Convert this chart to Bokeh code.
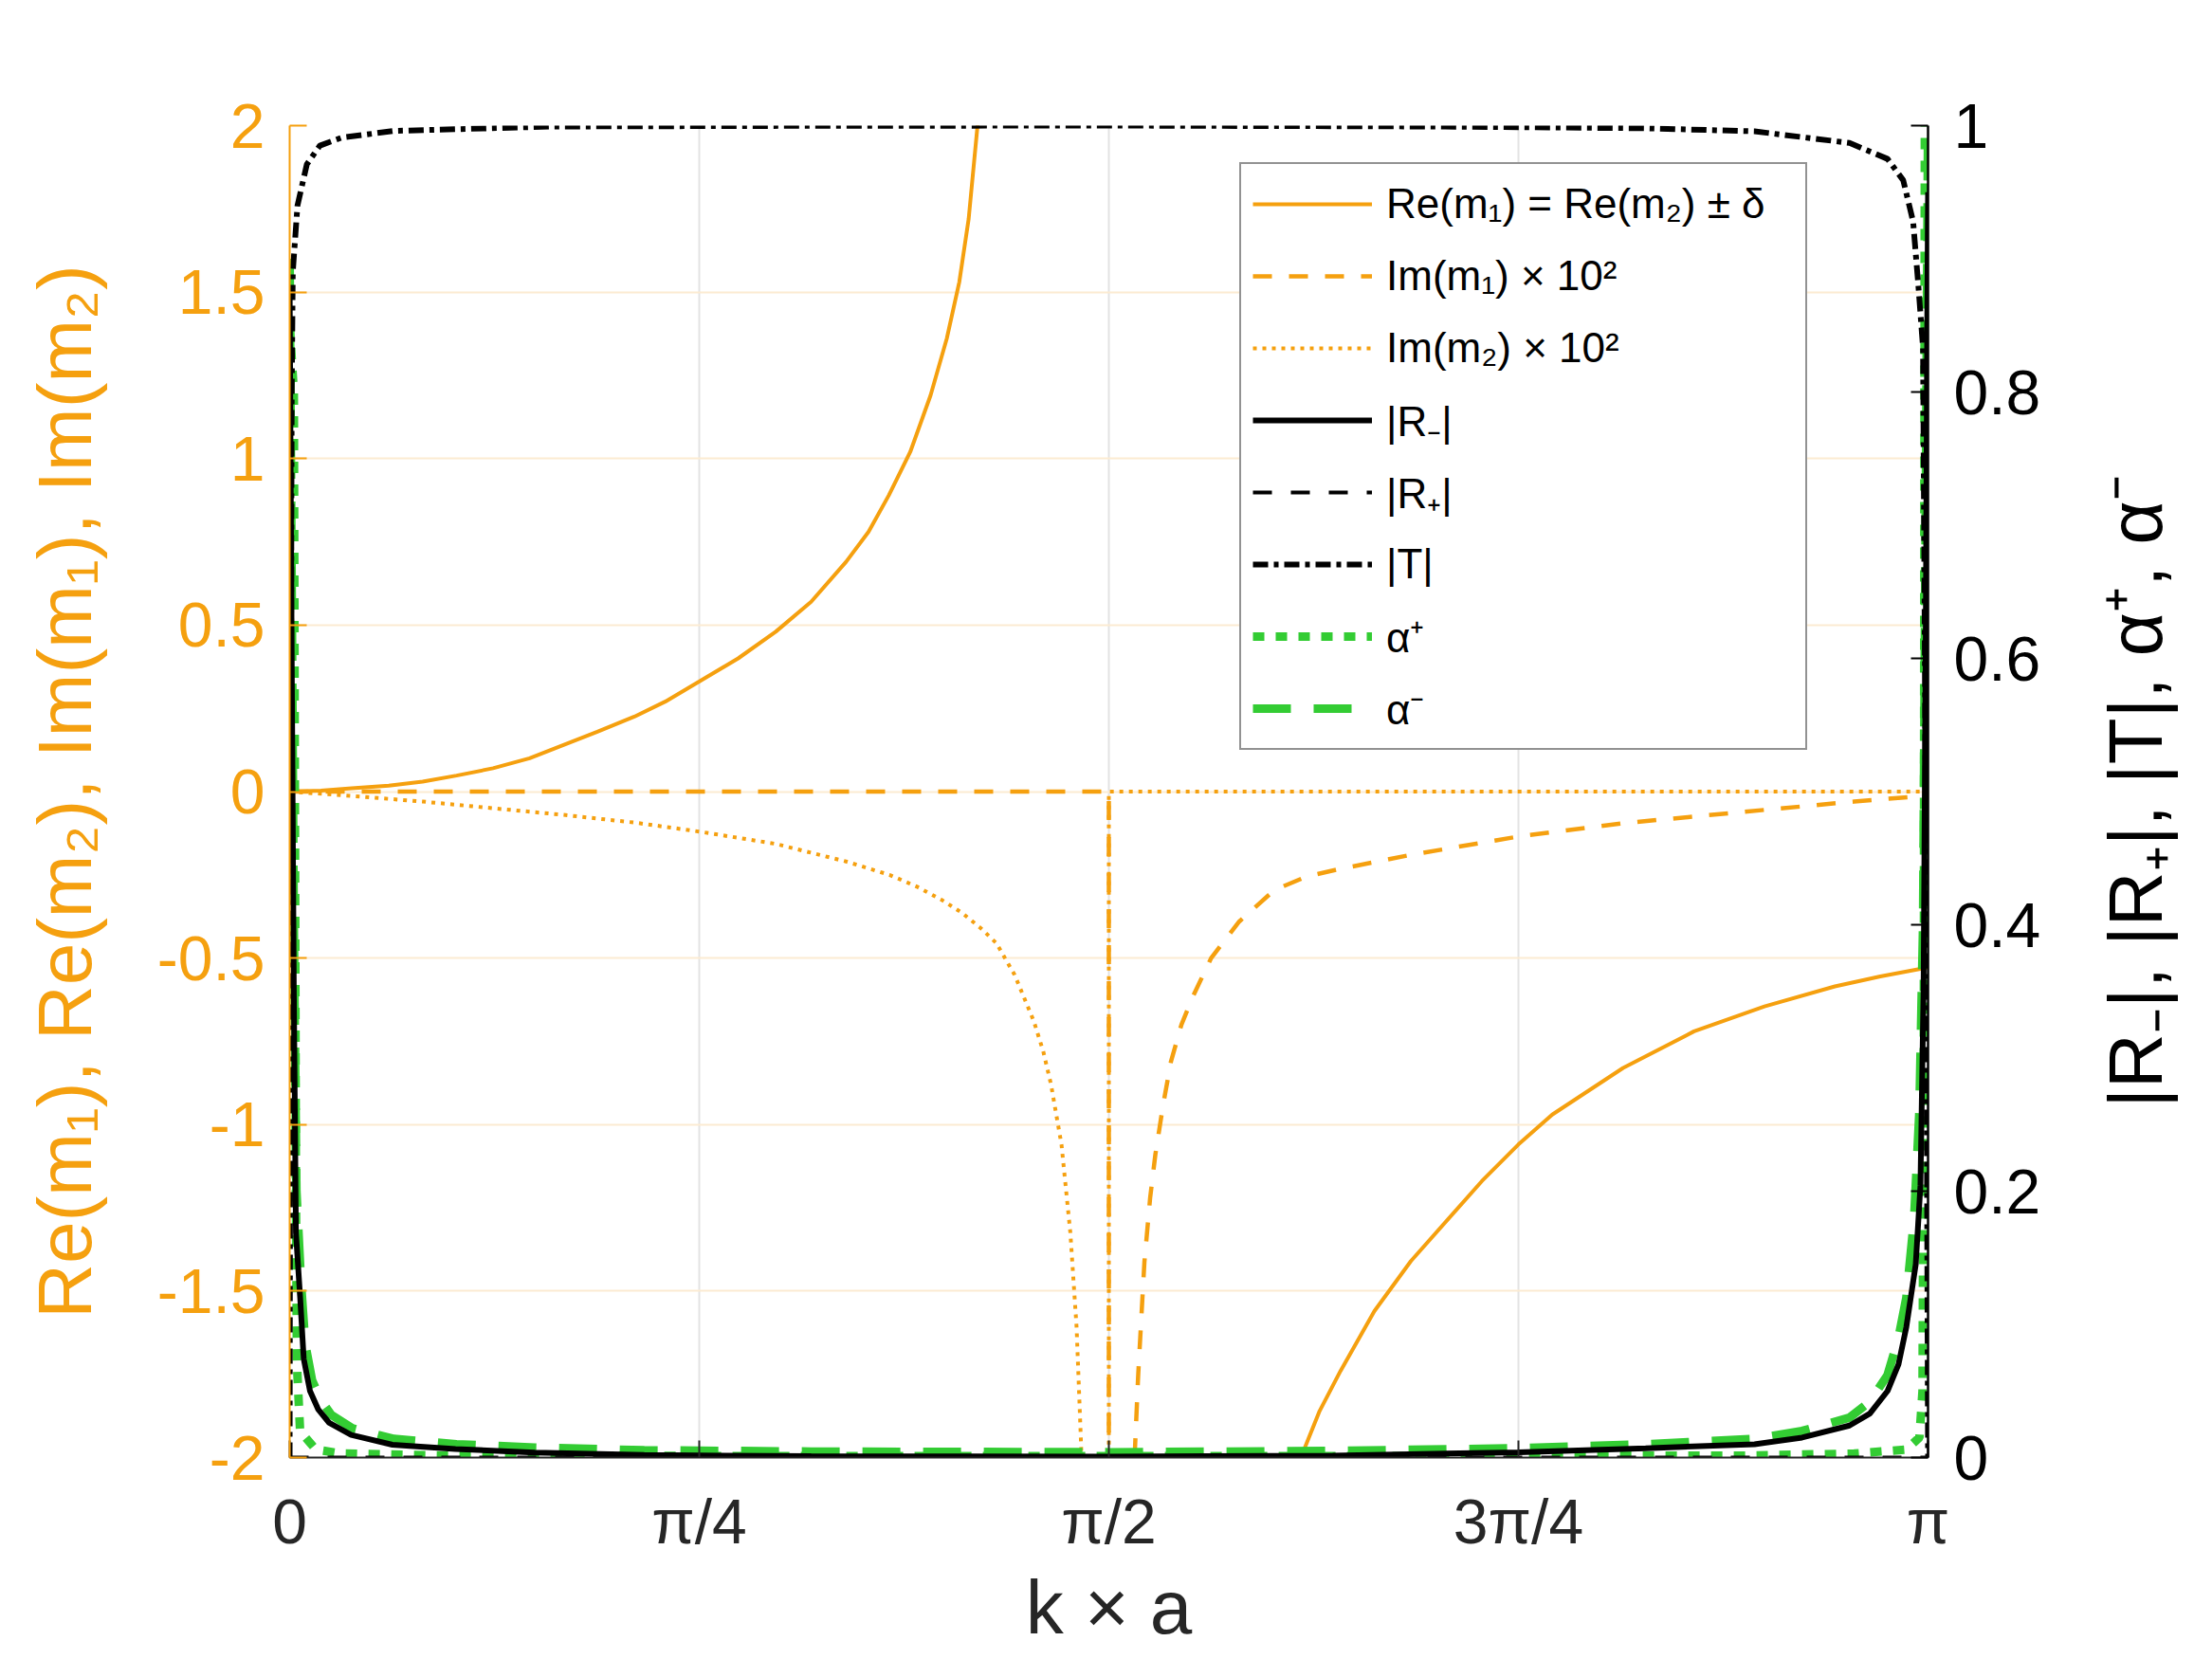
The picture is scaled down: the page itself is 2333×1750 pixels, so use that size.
import math
import numpy as np
from bokeh.plotting import figure
from bokeh.layouts import row
from bokeh.core.properties import value
from bokeh.models import (Range1d, LinearAxis, FixedTicker, CustomJSTickFormatter,
                          Legend, LegendItem, ColumnDataSource)
from bokeh.embed import file_html
from bokeh.resources import INLINE

PI = math.pi

# ---------------- data ----------------
# Re(m1) = Re(m2) +- delta  (left axis), two branches
re_x_a = [0.0, 0.06, 0.119, 0.19, 0.255, 0.32, 0.390, 0.46, 0.525, 0.59, 0.661, 0.72, 0.785,
          0.86, 0.932, 1.0, 1.067, 1.11, 1.149, 1.19, 1.229, 1.26, 1.284, 1.302, 1.319, 1.335]
re_v_a = [0.0, 0.003, 0.01, 0.018, 0.03, 0.048, 0.07, 0.10, 0.14, 0.18, 0.225, 0.27, 0.33,
          0.40, 0.48, 0.57, 0.69, 0.78, 0.89, 1.02, 1.19, 1.36, 1.53, 1.72, 2.0, 2.3]
re_x_b = [1.900, 1.939, 1.975, 2.015, 2.080, 2.150, 2.286, 2.356, 2.421, 2.557, 2.693, 2.828,
          2.963, 3.050, PI]
re_v_b = [-2.17, -2.0, -1.86, -1.74, -1.56, -1.41, -1.17, -1.06, -0.97, -0.83, -0.72, -0.645,
          -0.585, -0.555, -0.528]

# Im(m1) x 10^2 (left axis)
im1_x = [0.0, PI / 2, PI / 2, 1.600, 1.621, 1.627, 1.631, 1.635, 1.639, 1.650, 1.660, 1.675,
         1.690, 1.710, 1.732, 1.767, 1.821, 1.888, 1.950, 2.015, 2.150, 2.356, 2.557, 2.828,
         3.000, PI]
im1_v = [0.0, 0.0, -20.0, -4.0, -1.97, -1.755, -1.64, -1.526, -1.413, -1.22, -1.09, -0.94,
         -0.81, -0.70, -0.615, -0.50, -0.39, -0.296, -0.255, -0.232, -0.19, -0.135, -0.095,
         -0.055, -0.03, -0.012]

# Im(m2) x 10^2 (left axis)
im2_x = [0.0, 0.119, 0.255, 0.390, 0.525, 0.661, 0.785, 0.932, 1.067, 1.150, 1.202, 1.250,
         1.290, 1.325, 1.355, 1.390, 1.427, 1.445, 1.460, 1.480, 1.497, 1.509, 1.518, 1.540,
         PI / 2, PI / 2, PI]
im2_v = [0.0, -0.013, -0.03, -0.05, -0.07, -0.093, -0.12, -0.157, -0.21, -0.25, -0.285, -0.325,
         -0.365, -0.41, -0.455, -0.55, -0.69, -0.78, -0.88, -1.06, -1.325, -1.61, -1.98, -3.2,
         -20.0, 0.0, 0.0]

# |R-| (right axis)
rm_x = [0.0, 0.004, 0.008, 0.012, 0.020, 0.027, 0.039, 0.055, 0.076, 0.118, 0.197, 0.318, 0.47,
        0.68, 1.0, 1.571, 2.0, 2.356, 2.6, 2.809, 2.9, 2.991, 3.03, 3.064, 3.085, 3.1, 3.118,
        3.127, 3.133, 3.137, 3.140, PI]
rm_v = [0.88, 0.6, 0.35, 0.169, 0.121, 0.074, 0.05, 0.036, 0.026, 0.017, 0.0096, 0.0064, 0.0038,
        0.0019, 0.001, 0.0007, 0.0015, 0.004, 0.007, 0.010, 0.015, 0.024, 0.033, 0.05, 0.07,
        0.098, 0.145, 0.204, 0.35, 0.6, 0.85, 0.95]

# |R+| (right axis)
rp_x = [0.0, PI]
rp_v = [0.0, 0.0]

# |T| (right axis)
t_x = [0.0, 0.002, 0.004, 0.006, 0.015, 0.033, 0.058, 0.1, 0.2, 0.5, 1.0, 1.571, 2.2, 2.6,
       2.809, 2.991, 3.064, 3.094, 3.113, 3.123, 3.132, 3.137, PI]
t_v = [0.0, 0.5, 0.8, 0.89, 0.94, 0.971, 0.985, 0.991, 0.996, 0.9993, 0.9998, 1.0, 0.9993,
       0.998, 0.9957, 0.987, 0.975, 0.959, 0.928, 0.88, 0.833, 0.5, 0.0]

# alpha+ (right axis)
ap_x = [0.0, 0.008, 0.010, 0.012, 0.014, 0.020, 0.05, 0.1, 0.3, 1.0, 2.0, 2.8, 3.0, 3.1,
        3.125, 3.131, 3.1335, 3.1345, 3.1355]
ap_v = [0.85, 0.8, 0.5, 0.2, 0.07, 0.02, 0.006, 0.003, 0.0015, 0.001, 0.001, 0.0015, 0.003,
        0.006, 0.015, 0.05, 0.3, 0.7, 1.0]

# alpha- (right axis)
am_x = [0.0, 0.004, 0.008, 0.013, 0.022, 0.030, 0.043, 0.060, 0.080, 0.120, 0.200, 0.320,
        0.470, 0.680, 1.0, 1.571, 2.0, 2.356, 2.6, 2.809, 2.9, 2.991, 3.03, 3.064, 3.085, 3.1,
        3.115, 3.125, 3.132, 3.137, 3.140, PI]
am_v = [0.9, 0.65, 0.4, 0.2, 0.13, 0.085, 0.058, 0.043, 0.032, 0.022, 0.014, 0.010, 0.0075,
        0.0055, 0.0045, 0.004, 0.005, 0.007, 0.010, 0.014, 0.02, 0.03, 0.042, 0.062, 0.09,
        0.12, 0.18, 0.26, 0.4, 0.7, 0.9, 1.0]

x_ticks = [0.0, PI / 4, PI / 2, 3 * PI / 4, PI]
x_tick_labels = ["0", "π/4", "π/2", "3π/4", "π"]
left_ticks = [-2, -1.5, -1, -0.5, 0, 0.5, 1, 1.5, 2]
right_ticks = [0, 0.2, 0.4, 0.6, 0.8, 1.0]

legend_labels = ["Re(m₁) = Re(m₂) ± δ", "Im(m₁) × 10²", "Im(m₂) × 10²",
                 "|R₋|", "|R₊|", "|T|", "α⁺", "α⁻"]
left_label = "Re(m₁), Re(m₂), Im(m₁), Im(m₂)"
right_label = "|R₋|, |R₊|, |T|, α⁺, α⁻"
x_label = "k × a"

# ---------------- styling ----------------
ORANGE = "#F5A00F"
GREEN = "#33CC33"
BLACK = "#000000"
DARK = "#262626"
FONT = "Liberation Sans"

p = figure(frame_width=1728, frame_height=1405,
           min_border_left=305, min_border_right=150, min_border_top=132, min_border_bottom=205,
           x_range=Range1d(0, PI), y_range=Range1d(-2, 2),
           output_backend="svg", toolbar_location=None)
p.outline_line_color = None
p.background_fill_color = "white"
p.border_fill_color = "white"
p.extra_y_ranges = {"r": Range1d(0, 1)}

# left axis
ya = p.yaxis[0]
ya.ticker = FixedTicker(ticks=left_ticks)
ya.formatter = CustomJSTickFormatter(code="return String(Math.round(tick*10)/10);")
ya.axis_label = left_label
ya.axis_line_color = ORANGE
ya.axis_line_width = 2
ya.major_tick_line_color = ORANGE
ya.major_tick_line_width = 2
ya.major_tick_in = 18
ya.major_tick_out = 0
ya.minor_tick_line_color = None
ya.major_label_text_color = ORANGE
ya.major_label_text_font = FONT
ya.major_label_text_font_size = "66px"
ya.major_label_standoff = 26
ya.axis_label_text_color = ORANGE
ya.axis_label_text_font = FONT
ya.axis_label_text_font_size = "80px"
ya.axis_label_text_font_style = "normal"
ya.axis_label_standoff = 50

# bottom axis
xa = p.xaxis[0]
xa.ticker = FixedTicker(ticks=x_ticks)
xa.formatter = CustomJSTickFormatter(
    args=dict(labels=x_tick_labels),
    code="return labels[Math.round(tick/(Math.PI/4))];")
xa.axis_label = x_label
xa.axis_line_color = DARK
xa.axis_line_width = 2
xa.major_tick_line_color = DARK
xa.major_tick_line_width = 2
xa.major_tick_in = 18
xa.major_tick_out = 0
xa.minor_tick_line_color = None
xa.major_label_text_color = DARK
xa.major_label_text_font = FONT
xa.major_label_text_font_size = "66px"
xa.major_label_standoff = 30
xa.axis_label_text_color = DARK
xa.axis_label_text_font = FONT
xa.axis_label_text_font_size = "80px"
xa.axis_label_text_font_style = "normal"
xa.axis_label_standoff = 6

# right axis
ra = LinearAxis(y_range_name="r", ticker=FixedTicker(ticks=right_ticks),
                formatter=CustomJSTickFormatter(code="return String(Math.round(tick*10)/10);"))
ra.axis_line_color = BLACK
ra.axis_line_width = 2.5
ra.major_tick_line_color = BLACK
ra.major_tick_line_width = 2
ra.major_tick_in = 18
ra.major_tick_out = 0
ra.minor_tick_line_color = None
ra.major_label_text_color = BLACK
ra.major_label_text_font = FONT
ra.major_label_text_font_size = "66px"
ra.major_label_standoff = 27
p.add_layout(ra, "right")

# grids
p.xgrid.grid_line_color = "#E3E3E3"
p.xgrid.grid_line_width = 2
p.ygrid.grid_line_color = "#FCEBD2"
p.ygrid.grid_line_width = 2

# ---------------- lines ----------------
src_re = ColumnDataSource(dict(x=re_x_a + [float("nan")] + re_x_b,
                               y=re_v_a + [float("nan")] + re_v_b))
r_re = p.line("x", "y", source=src_re, line_color=ORANGE, line_width=4)
r_im1 = p.line(im1_x, im1_v, line_color=ORANGE, line_width=4.5, line_dash="20 18")
r_im2 = p.line(im2_x, im2_v, line_color=ORANGE, line_width=4, line_dash="4 6")

r_ap = p.line(ap_x, ap_v, y_range_name="r", line_color=GREEN, line_width=9, line_dash="12 12")
r_am = p.line(am_x, am_v, y_range_name="r", line_color=GREEN, line_width=9, line_dash="40 24")
r_rp = p.line(rp_x, rp_v, y_range_name="r", line_color=BLACK, line_width=4, line_dash="20 20")
r_t = p.line(t_x, t_v, y_range_name="r", line_color=BLACK, line_width=6, line_dash="16 6 5 6")
r_rm = p.line(rm_x, rm_v, y_range_name="r", line_color=BLACK, line_width=6)

rends = [r_re, r_im1, r_im2, r_rm, r_rp, r_t, r_ap, r_am]
items = [LegendItem(label=lab, renderers=[r]) for lab, r in zip(legend_labels, rends)]
legend = Legend(items=items, location=(1002, 746))
legend.label_text_font = FONT
legend.label_text_font_size = "44px"
legend.label_text_color = "#000000"
legend.glyph_width = 126
legend.glyph_height = 60
legend.label_height = 60
legend.label_width = 430
legend.label_standoff = 15
legend.spacing = 16
legend.padding = 12
legend.margin = 0
legend.border_line_color = DARK
legend.border_line_width = 2
legend.background_fill_color = "white"
legend.background_fill_alpha = 1.0
p.add_layout(legend)

# ---------------- right-axis title strip (reads bottom-to-top) ----------------
q = figure(frame_width=142, frame_height=1405,
           min_border_left=0, min_border_right=0, min_border_top=132, min_border_bottom=205,
           x_range=Range1d(0, 1), y_range=Range1d(0, 1),
           x_axis_type=None, y_axis_type=None,
           output_backend="svg", toolbar_location=None)
q.outline_line_color = None
q.grid.visible = False
q.background_fill_color = "white"
q.border_fill_color = "white"
q.text(x=[0.486], y=[0.5], text=[right_label], angle=math.pi / 2,
       text_align="center", text_baseline="middle",
       text_font=value(FONT), text_font_size=value("80px"), text_color=BLACK)

layout = row(p, q, spacing=0)
open("out.html", "w").write(file_html(layout, INLINE))
